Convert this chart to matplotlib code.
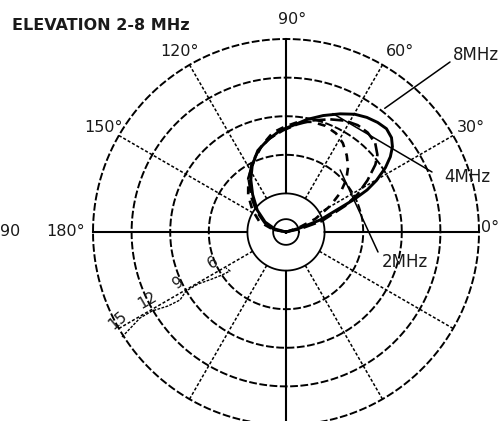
import numpy as np
import matplotlib
matplotlib.use("Agg")
import matplotlib.pyplot as plt
from matplotlib.lines import Line2D

plt.rcParams['font.family'] = ['DejaVu Sans']

# elevation patterns: angle (deg) and level (dB scale of the chart, 0 = centre)
ang_8 = [0, 15.9, 19.4, 24.0, 25.6, 27.4, 29.7, 32.9, 35.8, 38.7, 41.8, 45.8, 50.1, 54.8,
         59.7, 65.4, 72.3, 79.4, 86.3, 93.4, 101.1, 109.1, 116.9, 123.9, 131.7, 142.8,
         154.5, 164.7, 180]
db_8 = [0, 1.1, 2.8, 4.6, 5.9, 7.1, 8.1, 9.2, 10.0, 10.6, 11.0, 11.2, 11.1, 10.9,
        10.6, 10.1, 9.5, 8.9, 8.3, 7.9, 7.3, 6.7, 5.8, 4.9, 3.9, 2.8,
        1.8, 0.9, 0]

ang_4 = [0, 12.1, 17.0, 23.8, 27.8, 32.4, 37.0, 40.2, 45.0, 50.6, 56.1, 62.0, 68.7,
         76.9, 84.2, 91.7, 99.7, 107.4, 116.2, 125.4, 135.0, 145.0, 156.8, 169.7, 180]
db_4 = [0, 1.1, 2.9, 5.0, 6.3, 7.5, 8.7, 9.3, 9.8, 10.0, 10.0, 9.8, 9.4,
        8.9, 8.4, 7.9, 7.4, 6.8, 6.0, 5.0, 3.8, 2.8, 1.8, 0.9, 0]

ang_2 = [0, 18.4, 24.1, 30.6, 35.8, 40.9, 46.4, 51.6, 57.4, 63.2, 69.8, 76.7, 83.8,
         90.5, 97.5, 105.4, 114.0, 125.1, 135.8, 147.1, 159.0, 167.9, 180]
db_2 = [0, 1.0, 2.5, 4.0, 5.2, 6.2, 7.0, 7.6, 8.2, 8.6, 8.8, 8.8, 8.6,
        8.2, 7.8, 7.0, 6.1, 5.1, 4.1, 3.1, 2.2, 1.1, 0]

ring_levels = [6, 9, 12, 15]
ring_labels = ["6", "9", "12", "15"]
solid_rings = [1, 3]
main_spokes = [0, 90, 180, 270]
minor_spokes = [30, 60, 120, 150, 210, 240, 300, 330]
angle_labels = ["0°", "30°", "60°", "90°", "120°", "150°", "180°"]

W, H = 504, 421
fig = plt.figure(figsize=(W / 100, H / 100), dpi=100)
fig.patch.set_facecolor("white")

cx, cy, R = 286, 232, 193
ax = fig.add_axes([(cx - R) / W, (H - cy - R) / H, 2 * R / W, 2 * R / H],
                  projection="polar")
ax.set_ylim(0, 15)
ax.grid(False)
ax.set_xticks([])
ax.set_yticks([])
ax.spines["polar"].set_visible(False)
ax.patch.set_alpha(0)

th = np.linspace(0, 2 * np.pi, 361)
for r in solid_rings:
    ax.plot(th, np.full_like(th, r), color="black", lw=1.3, clip_on=False)
for r in ring_levels:
    ax.plot(th, np.full_like(th, r), color="black", lw=1.4, ls=(0, (4, 1.3)), clip_on=False)
for a in main_spokes:
    ax.plot([np.radians(a)] * 2, [3, 15], color="black", lw=1.5, clip_on=False)
for a in minor_spokes:
    ax.plot([np.radians(a)] * 2, [3, 15], color="black", lw=1.1, ls=(0, (2, 1.3)),
            clip_on=False)

ax.plot(np.radians(ang_8), db_8, color="black", lw=2.1)
ax.plot(np.radians(ang_4), db_4, color="black", lw=1.9, ls=(0, (5, 1.8)))
ax.plot(np.radians(ang_2), db_2, color="black", lw=1.9, ls=(0, (3, 2.5)))


def fp(x, y):
    # pixel position in the picture -> figure fraction
    return (x / W, 1 - y / H)


tk = dict(fontsize=11.5, color="#1a1a1a")
for txt, (x, y) in zip(angle_labels, [(490, 228), (471, 127), (400, 52), (292, 19),
                                      (180, 51), (103, 128), (66, 231)]):
    fig.text(*fp(x, y), txt, ha="center", va="center", **tk)
fig.text(*fp(10, 231), "90", ha="center", va="center", **tk)

fig.text(*fp(12, 25), "ELEVATION 2-8 MHz", ha="left", va="center",
         fontsize=11.5, fontweight="bold", color="#1a1a1a")

# frequency labels with leader lines
for txt, tip, lab, start in [("8MHz", (51.4, 12.3), (453, 55), (450, 62)),
                             ("4MHz", (68.4, 9.9), (444, 177), (432, 172)),
                             ("2MHz", (48.9, 6.4), (382, 262), (378, 252))]:
    ax.annotate("", xy=(np.radians(tip[0]), tip[1]), xytext=fp(*start),
                textcoords="figure fraction",
                arrowprops=dict(arrowstyle="-", color="black", lw=1.1,
                                shrinkA=0, shrinkB=0))
    fig.text(*fp(*lab), txt, ha="left", va="center", fontsize=12, color="#1a1a1a")

# dB scale labels along the lower-left rings
for txt, (x, y), rot in zip(ring_labels, [(213, 263), (178, 283), (147, 300), (118, 320)],
                            [30, 35, 30, 40]):
    fig.text(*fp(x, y), txt, ha="center", va="center", rotation=rot, fontsize=11,
             color="#1a1a1a")
wx = [122, 140, 152, 168, 180, 186, 198, 212, 222, 230, 226]
wy = [337, 318, 311, 306, 300, 291, 284, 279, 275, 271, 268]
fig.add_artist(Line2D([x / W for x in wx], [1 - y / H for y in wy], color="black", lw=1.0,
                      ls=(0, (2, 1))))

fig.savefig("out.png", dpi=100, facecolor="white")
